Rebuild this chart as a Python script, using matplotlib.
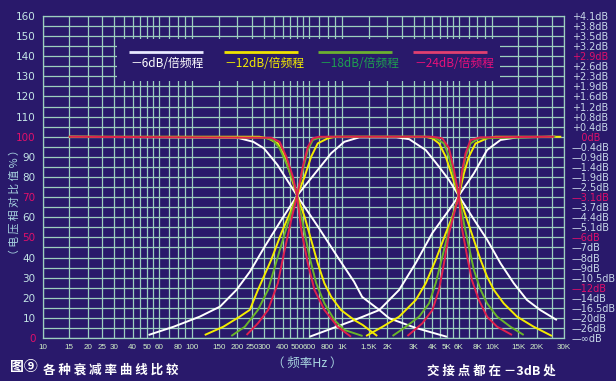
import matplotlib
matplotlib.use('Agg')
import matplotlib.pyplot as plt
from matplotlib import font_manager as fm
from matplotlib.patches import Rectangle
from matplotlib.ticker import NullFormatter

plt.rcParams['font.family'] = ['Noto Sans CJK SC', 'DejaVu Sans']


def has_font(name):
    try:
        fm.findfont(fm.FontProperties(family=name), fallback_to_default=False)
        return True
    except Exception:
        return False


NARROW_OK = has_font('Liberation Sans Narrow')
XFONT = 'Liberation Sans Narrow' if NARROW_OK else 'Liberation Sans'
XSIZE = 7.0 if NARROW_OK else 5.8

# ---------------- data ----------------
X_TICKS = [10, 15, 20, 25, 30, 40, 50, 60, 80, 100, 150, 200, 250, 300, 400, 500, 600, 800,
           1000, 1500, 2000, 3000, 4000, 5000, 6000, 8000, 10000, 15000, 20000, 30000]
X_TICK_LABELS = ['10', '15', '20', '25', '30', '40', '50', '60', '80', '100', '150', '200', '250',
                 '300', '400', '500', '600', '800', '1K', '1.5K', '2K', '3K', '4K', '5K', '6K',
                 '8K', '10K', '15K', '20K', '30K']
X_GRID = [10, 15, 20, 25, 30, 35, 40, 45, 50, 55, 60, 70, 80, 90,
          100, 150, 200, 250, 300, 350, 400, 450, 500, 550, 600, 700, 800, 900,
          1000, 1500, 2000, 2500, 3000, 3500, 4000, 4500, 5000, 5500, 6000, 7000, 8000, 9000,
          10000, 15000, 20000, 25000, 30000]
Y_TICKS = list(range(0, 161, 10))
Y_RED = [0, 50, 70, 100]
DB_VALUES = list(range(160, -1, -5))
DB_LABELS = ['+4.1dB', '+3.8dB', '+3.5dB', '+3.2dB', '+2.9dB', '+2.6dB', '+2.3dB', '+1.9dB',
             '+1.6dB', '+1.2dB', '+0.8dB', '+0.4dB', '   0dB', '—0.4dB', '—0.9dB', '—1.4dB',
             '—1.9dB', '—2.5dB', '—3.1dB', '—3.7dB', '—4.4dB', '—5.1dB', '—6dB', '—7dB',
             '—8dB', '—9dB', '—10.5dB', '—12dB', '—14dB', '—16.5dB', '—20dB', '—26dB', '—∞dB']
DB_RED = [140, 100, 70, 50, 25]

SERIES = ['－6dB/倍频程', '－12dB/倍频程', '－18dB/倍频程', '－24dB/倍频程']

# -6 dB/oct (white)
w_lp_f = [15, 200, 255, 300, 370, 500, 690, 930, 1200, 1360, 1770, 2060, 3100, 5000]
w_lp_v = [100, 99.5, 97.5, 94.3, 86, 70.7, 55.3, 40.4, 28, 20.4, 13.9, 9.8, 5, 0.6]
w_bp_f = [51, 75, 112, 153, 197, 242, 304, 392, 500, 687, 844, 1034, 1300, 2300, 2800, 3610,
          4430, 5160, 6000, 7570, 9270, 11400, 13970, 17110, 21000, 27100]
w_bp_v = [1.5, 5.6, 10.6, 15.6, 23.9, 32.9, 45.4, 58.6, 70.7, 83.5, 91.8, 97.5, 99.7, 99.7, 98.8,
          93.4, 85.1, 78.5, 70.7, 58.9, 48.9, 37.1, 27.2, 18.9, 13.9, 8.9]
w_hp_f = [605, 1205, 1770, 2400, 3100, 4000, 5160, 6000, 7570, 9270, 11400, 14700, 26500]
w_hp_v = [0.6, 8.9, 13.9, 23.9, 37.3, 52.2, 63.6, 70.7, 81.8, 93.4, 98.4, 99.7, 100]

# -12 dB/oct (yellow)
y_lp_f = [15, 280, 320, 372, 413, 457, 500, 561, 621, 687, 761, 844, 983, 1205, 1369, 1714]
y_lp_v = [100, 100, 99.2, 96.7, 90.1, 80.1, 70.7, 60.3, 48.7, 37.1, 27.2, 20.5, 13.9, 8.9, 6.5, 1.0]
y_bp_f = [121, 161, 207, 242, 274, 336, 392, 457, 500, 561, 621, 687, 801, 900, 3600, 4000,
          4427, 4910, 5440, 6000, 6830, 7570, 8390, 9270, 10280, 11970, 14700, 18970, 25130]
y_bp_v = [1.5, 5.6, 10.6, 14, 23.9, 38.8, 52, 63.6, 70.7, 80.1, 90.1, 96.7, 99.2, 100, 100, 99.2,
          96.7, 90.1, 80.1, 70.7, 58.6, 48.7, 38.8, 30.5, 23.9, 17.2, 10.6, 5.6, 1.0]
y_hp_f = [1443, 1859, 2400, 3100, 3613, 4210, 4910, 5440, 6000, 6493, 7010, 7770, 9270, 10500, 29000]
y_hp_v = [1.0, 5.6, 10.6, 18.9, 27.2, 38.8, 52, 60.3, 70.7, 81.8, 90.1, 96.7, 99.2, 100, 100]

# -18 dB/oct (green)
g_lp_f = [15, 304, 345, 382, 424, 469, 500, 546, 605, 671, 761, 888, 1034, 1369]
g_lp_v = [100, 99.5, 98.4, 94.3, 86.8, 78.5, 70.7, 57, 40.4, 27.2, 17.2, 8.9, 4.0, 1.0]
g_bp_f = [182, 224, 274, 320, 372, 434, 500, 546, 590, 637, 703, 800, 3800, 4210, 4780, 5163,
          5570, 6000, 6493, 7010, 7570, 8390, 9270, 10810, 13270, 16270]
g_bp_v = [1.0, 5.6, 13.9, 23.9, 40.4, 57, 70.7, 83.5, 93.4, 98.4, 99.5, 100, 100, 99.2, 96.7,
          90.1, 80.1, 70.7, 57, 45.4, 33.8, 23.9, 17.2, 10.6, 5.6, 1.5]
g_hp_f = [2168, 2661, 3260, 3800, 4210, 4660, 5163, 6000, 6330, 6660, 7190, 8170, 26500]
g_hp_v = [1.0, 5.6, 10.6, 17.2, 27.2, 40.4, 53.7, 70.7, 81.8, 90.1, 96.7, 99.2, 100]

# -24 dB/oct (red)
r_lp_f = [15, 336, 382, 424, 469, 500, 533, 590, 653, 761, 933, 1146]
r_lp_v = [100, 99.5, 97.5, 90.1, 80.1, 70.7, 53.7, 37.1, 23.9, 13.9, 5.6, 0.6]
r_bp_f = [230, 274, 320, 372, 413, 457, 500, 546, 590, 637, 700, 4000, 4660, 5163, 5570, 6000,
          6330, 6830, 7340, 8170, 9270, 10810, 13600]
r_bp_v = [1.5, 7.3, 13.9, 27.2, 43.7, 58.6, 70.7, 85.1, 95, 99.2, 100, 100, 99.2, 94.3, 83.5,
          70.7, 53.7, 40.4, 28.8, 18.9, 10.6, 5.6, 1.5]
r_hp_f = [2726, 3427, 4000, 4427, 4780, 5163, 6000, 6330, 6660, 7190, 8390, 26000]
r_hp_v = [1.0, 7.3, 13.9, 23.9, 37.1, 52, 70.7, 83.5, 91.8, 98.4, 99.7, 100]

# ---------------- style ----------------
BG = '#29196b'
GRID = '#9ccfbf'
TICK_C = '#c4e6e6'
XTICK_C = '#d2f0c8'
RED_T = '#e0106a'
LINE_COLORS = ['#ffffff', '#f4ec00', '#6ab42a', '#e0204e']
LEG_LINE_COLORS = ['#e8e8ff', '#f0e400', '#6cb030', '#e04070']
LEG_TEXT_COLORS = ['#ffffff', '#f4ec00', '#1ea050', '#e8107a']

W, H = 616, 381
fig = plt.figure(figsize=(W / 100, H / 100), dpi=100, facecolor=BG)
ax = fig.add_axes([42.5 / W, (H - 338) / H, (563.5 - 42.5) / W, (338 - 16) / H])
ax.set_facecolor(BG)
ax.set_xscale('log')
ax.set_xlim(10, 30000)
ax.set_ylim(0, 160)

ax.set_xticks(X_TICKS)
ax.set_xticklabels(X_TICK_LABELS)
ax.set_xticks(X_GRID, minor=True)
ax.xaxis.set_minor_formatter(NullFormatter())
ax.set_yticks(Y_TICKS)
ax.set_yticks(list(range(0, 161, 5)), minor=True)
ax.set_axisbelow(True)
ax.grid(True, which='both', color=GRID, lw=0.9)
ax.tick_params(which='both', length=0)
ax.tick_params(axis='x', pad=4, labelsize=XSIZE, labelcolor=XTICK_C)
ax.tick_params(axis='y', pad=5, labelsize=7.5, labelcolor=TICK_C)
for lab in ax.get_xticklabels():
    lab.set_family([XFONT, 'DejaVu Sans'])
for lab, v in zip(ax.get_yticklabels(), Y_TICKS):
    lab.set_family('DejaVu Sans')
    if v in Y_RED:
        lab.set_color(RED_T)
for s in ax.spines.values():
    s.set_color(GRID)
    s.set_linewidth(0.9)

ax2 = ax.twinx()
ax2.set_ylim(0, 160)
ax2.set_yticks(DB_VALUES)
ax2.set_yticklabels(DB_LABELS)
ax2.tick_params(length=0, pad=6, labelsize=7, labelcolor='#c8d8e8')
for lab, v in zip(ax2.get_yticklabels(), DB_VALUES):
    lab.set_family('DejaVu Sans')
    if v in DB_RED:
        lab.set_color(RED_T)
for s in ax2.spines.values():
    s.set_visible(False)

# legend box blocking grid
ax.add_patch(Rectangle((0.143, 0.797), 0.735, 0.133, transform=ax.transAxes,
                       facecolor=BG, edgecolor='none', zorder=1))

curves = [
    (w_lp_f, w_lp_v, w_bp_f, w_bp_v, w_hp_f, w_hp_v),
    (y_lp_f, y_lp_v, y_bp_f, y_bp_v, y_hp_f, y_hp_v),
    (g_lp_f, g_lp_v, g_bp_f, g_bp_v, g_hp_f, g_hp_v),
    (r_lp_f, r_lp_v, r_bp_f, r_bp_v, r_hp_f, r_hp_v),
]
for i, (c, data) in enumerate(zip(LINE_COLORS, curves)):
    for k in range(0, 6, 2):
        ax.plot(data[k], data[k + 1], color=c, lw=1.4, zorder=3 + i,
                solid_joinstyle='round', solid_capstyle='butt')

# legend (line above label)
leg_x = [0.166, 0.348, 0.529, 0.711]
for x0, lc, tc, lab in zip(leg_x, LEG_LINE_COLORS, LEG_TEXT_COLORS, SERIES):
    ax.plot([x0, x0 + 0.142], [0.888, 0.888], transform=ax.transAxes, color=lc, lw=2,
            zorder=5, solid_capstyle='butt')
    ax.text(x0 + 0.002, 0.852, lab, transform=ax.transAxes, color=tc, fontsize=8.5,
            ha='left', va='center', zorder=5)

# texts
fig.text(14 / W, 1 - 202 / H, '（ 电 压 相 对 比 值 % ）', rotation=90, color='#a8d4e0',
         fontsize=7.8, ha='center', va='center')
fig.text(307 / W, 1 - 363 / H, '（ 频率Hz ）', color='#a8d4e0', fontsize=9,
         ha='center', va='center')
fig.text(10 / W, 1 - 367 / H, '图⑨', color='#ffffff', fontsize=10, fontweight='bold',
         ha='left', va='center')
fig.text(43 / W, 1 - 370 / H, '各 种 衰 减 率 曲 线 比 较', color='#ffffff', fontsize=9,
         fontweight='bold', ha='left', va='center')
fig.text(427 / W, 1 - 371 / H, '交 接 点 都 在 －3dB 处', color='#ffffff', fontsize=9,
         fontweight='bold', ha='left', va='center')

fig.savefig('out.png', dpi=100, facecolor=BG)
